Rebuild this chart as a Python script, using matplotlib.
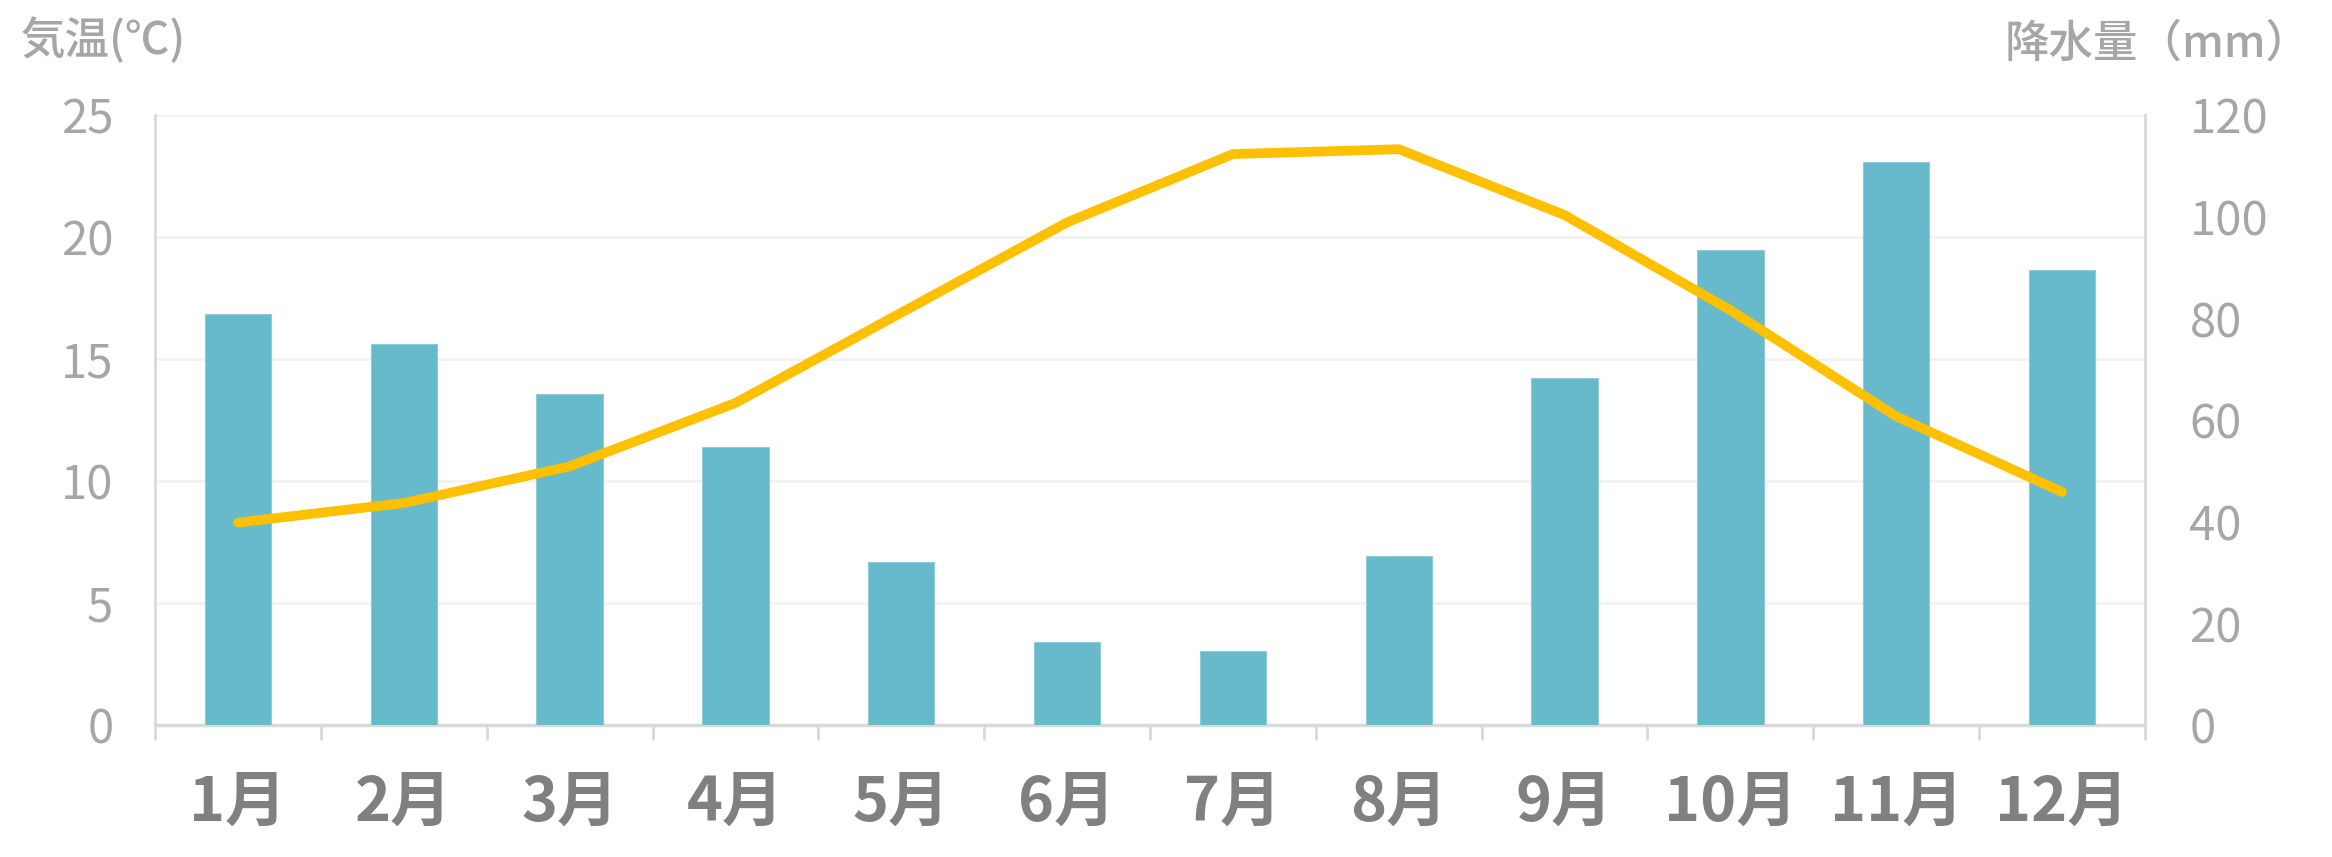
import matplotlib.pyplot as plt
import numpy as np

plt.rcParams['font.family'] = ['Noto Sans CJK JP', 'DejaVu Sans']

months = ['1月', '2月', '3月', '4月', '5月', '6月', '7月', '8月', '9月', '10月', '11月', '12月']
rain = [80.8, 74.9, 65.1, 54.7, 32.1, 16.4, 14.6, 33.3, 68.2, 93.4, 110.7, 89.6]
temp = [8.3, 9.1, 10.6, 13.2, 16.9, 20.6, 23.4, 23.6, 20.9, 17.0, 12.65, 9.55]
temp_ticks = [0, 5, 10, 15, 20, 25]
rain_ticks = [0, 20, 40, 60, 80, 100, 120]

grey = '#a6a6a6'
spine_c = '#d9d9d9'
x = np.arange(len(months))

fig = plt.figure(figsize=(23.32, 8.57), dpi=100)
rect = [0.0665, 0.154, 0.8533, 0.7118]
ax = fig.add_axes(rect)
ax2 = ax.twinx()
ax3 = fig.add_axes(rect, sharex=ax, sharey=ax)

# left axis: temperature (grid + labels)
ax.set_xlim(-0.5, 11.5)
ax.set_ylim(0, 25)
ax.set_yticks(temp_ticks)
ax.yaxis.grid(True, color='#f2f2f2', lw=2)
ax.set_axisbelow(True)
ax.tick_params(axis='y', length=0, pad=30, labelsize=34, labelcolor=grey)
ax.set_xticks(x)
ax.set_xticklabels(months, fontsize=44, fontweight='bold', color='#808080')
ax.set_xticks(np.arange(-0.5, 12, 1), minor=True)
ax.tick_params(axis='x', which='major', length=0, pad=34)
ax.tick_params(axis='x', which='minor', length=11, width=2, color=spine_c)
for s in ['top', 'right']:
    ax.spines[s].set_visible(False)
ax.spines['left'].set_color(spine_c)
ax.spines['left'].set_linewidth(2)
ax.spines['bottom'].set_color(spine_c)
ax.spines['bottom'].set_linewidth(2.5)

# right axis: precipitation bars
ax2.bar(x, rain, width=0.4, color='#67b9cc', edgecolor='#8fcbd9', linewidth=0.8, zorder=2)
ax2.set_ylim(0, 120)
ax2.set_yticks(rain_ticks)
ax2.tick_params(axis='y', length=0, pad=32, labelsize=34, labelcolor=grey)
for s in ['top', 'left', 'bottom']:
    ax2.spines[s].set_visible(False)
ax2.spines['right'].set_color(spine_c)
ax2.spines['right'].set_linewidth(2)

# line on top
ax3.patch.set_visible(False)
ax3.axis('off')
ax3.plot(x, temp, color='#ffc000', lw=7, solid_capstyle='round', solid_joinstyle='miter')

fig.text(0.009, 0.952, '気温(℃)', fontsize=32, fontweight='medium', color=grey, ha='left', va='center')
fig.text(0.991, 0.948, '降水量（mm）', fontsize=32, fontweight='medium', color=grey, ha='right', va='center')

fig.savefig('out.png', dpi=100, facecolor='white')
